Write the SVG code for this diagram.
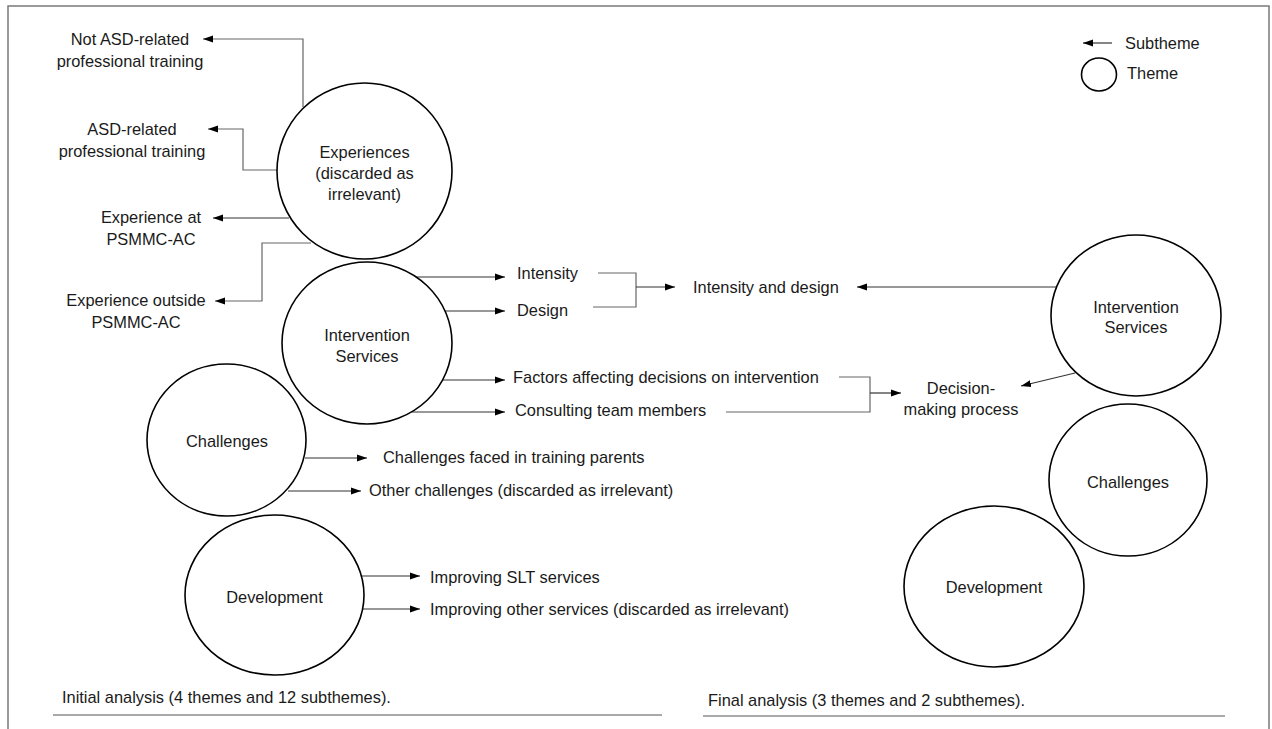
<svg xmlns="http://www.w3.org/2000/svg" width="1272" height="729" viewBox="0 0 1272 729">
<style>
text{font-family:"Liberation Sans",Arial,sans-serif;font-size:16.4px;fill:#1a1a1a}
.m{text-anchor:middle}
.th{fill:#fff;stroke:#000;stroke-width:1.6}
.c{fill:none;stroke:#333;stroke-width:1.2}
.g{fill:none;stroke:#666;stroke-width:1.2}
.a{marker-end:url(#ah)}
</style>
<defs>
<marker id="ah" markerUnits="userSpaceOnUse" markerWidth="11" markerHeight="9" refX="10" refY="4.5" orient="auto">
<path d="M0,1 L10,4.5 L0,8 Z" fill="#000"/>
</marker>
</defs>
<rect width="1272" height="729" fill="#fff"/>
<path d="M8,729 V6 H1269 V729" fill="none" stroke="#7a7a7a" stroke-width="1.5"/>
<g id="connectors">
<path class="g a" d="M303,107 V39 H203"/>
<path class="g a" d="M277,170 H243 V129 H208"/>
<path class="c a" d="M289,218 H213"/>
<path class="g a" d="M311,243 H262 V301 H215"/>
<path class="c a" d="M416,277 H505"/>
<path class="c a" d="M444,311 H505"/>
<path class="g" d="M598,273 H636 V307 H593"/>
<path class="c a" d="M636,287 H675"/>
<path class="c a" d="M1057,287 H857"/>
<path class="c a" d="M443,380 H505"/>
<path class="c a" d="M412,412 H505"/>
<path class="g" d="M839,377 H870 V412 H726"/>
<path class="c a" d="M870,393 H901" stroke-width="2"/>
<path class="c a" d="M1075,373 L1021,386"/>
<path class="c a" d="M305,458 H367"/>
<path class="c a" d="M288,491 H361"/>
<path class="c a" d="M362,576 H420"/>
<path class="c a" d="M363,609 H420"/>
<path class="c a" d="M1112,43 H1083"/>
</g>
<g id="legend">
<ellipse class="th" cx="1099" cy="74.5" rx="17.5" ry="16.5"/>
<text x="1125" y="48.5">Subtheme</text>
<text x="1127" y="78.5">Theme</text>
</g>
<g id="sub-not-asd"><text class="m" x="130" y="44.5">Not ASD-related</text><text class="m" x="130" y="66.5">professional training</text></g>
<g id="sub-asd"><text class="m" x="132" y="134.5">ASD-related</text><text class="m" x="132" y="156.5">professional training</text></g>
<g id="sub-exp-at"><text class="m" x="151" y="222.5">Experience at</text><text class="m" x="151" y="244.5">PSMMC-AC</text></g>
<g id="sub-exp-out"><text class="m" x="136" y="305.5">Experience outside</text><text class="m" x="136" y="327.5">PSMMC-AC</text></g>
<g id="theme-experiences">
<ellipse class="th" cx="364.5" cy="171" rx="87.5" ry="88"/>
<text class="m" x="364.5" y="157.5">Experiences</text>
<text class="m" x="364.5" y="178.5">(discarded as</text>
<text class="m" x="364.5" y="199.5">irrelevant)</text>
</g>
<g id="theme-intervention-1">
<ellipse class="th" cx="367" cy="343" rx="85" ry="81"/>
<text class="m" x="367" y="340.5">Intervention</text>
<text class="m" x="367" y="361.5">Services</text>
</g>
<g id="theme-challenges-1">
<ellipse class="th" cx="226.5" cy="440" rx="79.5" ry="76"/>
<text class="m" x="227" y="446.5">Challenges</text>
</g>
<g id="theme-development-1">
<ellipse class="th" cx="274.5" cy="595" rx="89.5" ry="80"/>
<text class="m" x="274.5" y="602.5">Development</text>
</g>
<g id="sub-intensity"><text x="517" y="278.5">Intensity</text></g>
<g id="sub-design"><text x="517" y="315.5">Design</text></g>
<g id="sub-intensity-design"><text x="693" y="292.5">Intensity and design</text></g>
<g id="sub-factors"><text x="513" y="382.5">Factors affecting decisions on intervention</text></g>
<g id="sub-consulting"><text x="515" y="415.5">Consulting team members</text></g>
<g id="sub-decision"><text class="m" x="961" y="393.5">Decision-</text><text class="m" x="961" y="414.5">making process</text></g>
<g id="sub-challenges-parents"><text x="383" y="462.5">Challenges faced in training parents</text></g>
<g id="sub-other-challenges"><text x="369" y="495.5">Other challenges (discarded as irrelevant)</text></g>
<g id="sub-slt"><text x="430" y="582.5">Improving SLT services</text></g>
<g id="sub-other-services"><text x="430" y="614.5">Improving other services (discarded as irrelevant)</text></g>
<g id="theme-intervention-2">
<ellipse class="th" cx="1136" cy="315.5" rx="85" ry="80.5"/>
<text class="m" x="1136" y="312.5">Intervention</text>
<text class="m" x="1136" y="332.5">Services</text>
</g>
<g id="theme-challenges-2">
<ellipse class="th" cx="1128" cy="480" rx="79" ry="76"/>
<text class="m" x="1128" y="487.5">Challenges</text>
</g>
<g id="theme-development-2">
<ellipse class="th" cx="994" cy="586.5" rx="90" ry="80.5"/>
<text class="m" x="994" y="592.5">Development</text>
</g>
<g id="captions">
<text x="62" y="702.5">Initial analysis (4 themes and 12 subthemes).</text>
<path d="M53,715 H662" stroke="#555" stroke-width="1.2"/>
<text x="708" y="705.5">Final analysis (3 themes and 2 subthemes).</text>
<path d="M703,716 H1225" stroke="#555" stroke-width="1.2"/>
</g>
</svg>
